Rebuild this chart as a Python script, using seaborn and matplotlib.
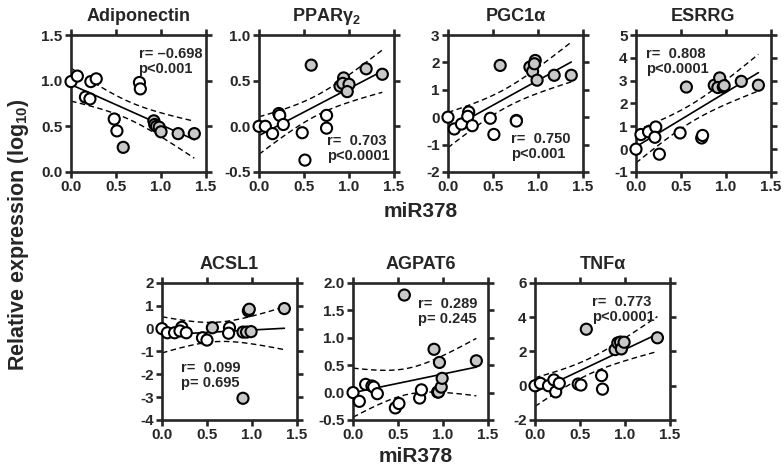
import numpy as np
import pandas as pd
import matplotlib
matplotlib.use("Agg")
import matplotlib.pyplot as plt
import seaborn as sns

# ---- data (miR378 vs relative expression, log10) ----
# open circles = group "A", grey circles = group "B"
adipo_x = [0.00, 0.07, 0.16, 0.21, 0.22, 0.28, 0.48, 0.51, 0.76, 0.77,
           0.58, 0.92, 0.93, 0.95, 0.98, 1.00, 1.19, 1.37]
adipo_y = [0.99, 1.05, 0.82, 0.80, 0.99, 1.02, 0.58, 0.45, 0.98, 0.91,
           0.27, 0.56, 0.52, 0.50, 0.49, 0.44, 0.42, 0.42]
adipo_grp = ["A"] * 10 + ["B"] * 8

ppar_x = [0.00, 0.07, 0.15, 0.22, 0.23, 0.27, 0.48, 0.51, 0.75, 0.75,
          0.58, 0.90, 0.94, 0.93, 1.00, 0.98, 1.19, 1.37]
ppar_y = [0.00, 0.00, -0.08, 0.14, 0.12, 0.02, -0.07, -0.37, 0.12, -0.02,
          0.67, 0.44, 0.53, 0.47, 0.46, 0.38, 0.63, 0.57]
ppar_grp = ["A"] * 10 + ["B"] * 8

pgc_x = [0.00, 0.07, 0.15, 0.23, 0.22, 0.27, 0.47, 0.51, 0.76, 0.76,
         0.58, 0.91, 0.94, 0.97, 0.96, 0.99, 1.18, 1.37]
pgc_y = [0.00, -0.43, -0.25, 0.19, 0.03, -0.31, -0.04, -0.63, -0.12, -0.14,
         1.89, 1.83, 1.67, 2.07, 1.95, 1.35, 1.53, 1.53]
pgc_grp = ["A"] * 10 + ["B"] * 8

esrrg_x = [0.00, 0.055, 0.14, 0.22, 0.21, 0.26, 0.49, 0.73, 0.74,
           0.56, 0.87, 0.93, 0.91, 0.97, 0.98, 1.17, 1.36]
esrrg_y = [0.00, 0.64, 0.76, 0.97, 0.52, -0.22, 0.71, 0.49, 0.60,
           2.72, 2.80, 3.12, 2.70, 2.72, 2.78, 2.97, 2.80]
esrrg_grp = ["A"] * 9 + ["B"] * 8

acsl_x = [0.00, 0.06, 0.14, 0.22, 0.20, 0.27, 0.45, 0.50, 0.75, 0.74,
          0.56, 0.90, 0.94, 0.96, 0.97, 0.99, 0.90, 1.36]
acsl_y = [0.00, -0.18, -0.18, 0.06, -0.10, -0.18, -0.40, -0.50, 0.04, -0.20,
          0.04, -0.15, -0.15, 0.78, 0.85, -0.13, -3.05, 0.88]
acsl_grp = ["A"] * 10 + ["B"] * 8

agpat_x = [0.00, 0.07, 0.14, 0.21, 0.23, 0.27, 0.47, 0.51, 0.74, 0.76,
           0.57, 0.90, 0.94, 0.95, 0.96, 0.98, 0.99, 1.37]
agpat_y = [0.00, -0.16, 0.15, 0.12, 0.10, -0.02, -0.28, -0.20, -0.10, 0.05,
           1.78, 0.79, 0.01, 0.01, 0.55, 0.10, 0.26, 0.58]
agpat_grp = ["A"] * 10 + ["B"] * 8

tnf_x = [0.00, 0.06, 0.15, 0.21, 0.23, 0.27, 0.48, 0.51, 0.74, 0.75,
         0.57, 0.89, 0.92, 0.95, 0.96, 0.99, 1.36]
tnf_y = [0.00, 0.14, 0.00, 0.34, -0.36, 0.14, 0.10, 0.04, 0.59, -0.20,
         3.30, 2.11, 2.50, 2.55, 2.15, 2.54, 2.80]
tnf_grp = ["A"] * 10 + ["B"] * 7

titles = ["Adiponectin", "PPARγ$_2$", "PGC1α", "ESRRG", "ACSL1", "AGPAT6", "TNFα"]
stats = ["r= \u20130.698\np<0.001", "r=  0.703\np<0.0001", "r=  0.750\np<0.001",
         "r=  0.808\np<0.0001", "r=  0.099\np= 0.695", "r=  0.289\np= 0.245",
         "r=  0.773\np<0.0001"]
yticks = [[0.0, 0.5, 1.0, 1.5], [-0.5, 0.0, 0.5, 1.0], [-2, -1, 0, 1, 2, 3],
          [-1, 0, 1, 2, 3, 4, 5], [-4, -3, -2, -1, 0, 1, 2],
          [-0.5, 0.0, 0.5, 1.0, 1.5, 2.0], [-2, 0, 2, 4, 6]]
yfmt = ["%.1f", "%.1f", "%d", "%d", "%d", "%.1f", "%d"]
t_crit = [2.12, 2.12, 2.12, 2.13, 2.12, 2.12, 2.13]  # two-sided 95%, df = n-2

panels = [(adipo_x, adipo_y, adipo_grp), (ppar_x, ppar_y, ppar_grp),
          (pgc_x, pgc_y, pgc_grp), (esrrg_x, esrrg_y, esrrg_grp),
          (acsl_x, acsl_y, acsl_grp), (agpat_x, agpat_y, agpat_grp),
          (tnf_x, tnf_y, tnf_grp)]

# layout (figure fractions) and where the r / p text sits (axes fractions)
boxes = [(0.0906, 0.6364), (0.3304, 0.6364), (0.5714, 0.6364), (0.8112, 0.6364),
         (0.2066, 0.1121), (0.4503, 0.1121), (0.6824, 0.1121)]
text_pos = [(0.50, 0.91), (0.505, 0.28), (0.47, 0.29), (0.075, 0.915),
            (0.14, 0.43), (0.48, 0.90), (0.425, 0.91)]

sns.set_style("ticks")
plt.rcParams["font.family"] = ["Liberation Sans", "DejaVu Sans"]
plt.rcParams["font.weight"] = "bold"
plt.rcParams["axes.unicode_minus"] = False
plt.rcParams["mathtext.fontset"] = "custom"
plt.rcParams["mathtext.rm"] = "Liberation Sans:bold"
plt.rcParams["mathtext.it"] = "Liberation Sans:bold"
plt.rcParams["mathtext.bf"] = "Liberation Sans:bold"

fig = plt.figure(figsize=(7.84, 4.73), dpi=100)

for i, (xs, ys, grp) in enumerate(panels):
    ax = fig.add_axes([boxes[i][0], boxes[i][1], 0.1722, 0.2896])
    df = pd.DataFrame({"x": xs, "y": ys, "grp": grp})

    # regression line + 95% confidence band of the mean
    sns.regplot(data=df, x="x", y="y", scatter=False, ci=None, truncate=True,
                color="black", line_kws={"lw": 1.2}, ax=ax)
    x = np.asarray(xs)
    y = np.asarray(ys)
    b, a = np.polyfit(x, y, 1)
    n = len(x)
    s = np.sqrt(np.sum((y - (a + b * x)) ** 2) / (n - 2))
    xx = np.linspace(x.min(), x.max(), 100)
    se = s * np.sqrt(1 / n + (xx - x.mean()) ** 2 / np.sum((x - x.mean()) ** 2))
    for sign in (-1, 1):
        ax.plot(xx, a + b * xx + sign * t_crit[i] * se, color="black",
                lw=1.0, ls=(0, (4, 2.5)))

    sns.scatterplot(data=df, x="x", y="y", hue="grp",
                    palette={"A": "white", "B": "#c8c8c8"},
                    edgecolor="black", linewidth=1.5, s=64, legend=False,
                    clip_on=False, zorder=5, ax=ax)

    ax.set_xlim(0, 1.5)
    ax.set_xticks([0, 0.5, 1.0, 1.5])
    ax.set_xticklabels(["0.0", "0.5", "1.0", "1.5"])
    ax.set_ylim(yticks[i][0], yticks[i][-1])
    ax.set_yticks(yticks[i])
    ax.set_yticklabels([yfmt[i] % v for v in yticks[i]])
    ax.set_xlabel("")
    ax.set_ylabel("")
    for sp in ax.spines.values():
        sp.set_visible(True)
        sp.set_linewidth(1.9)
    ax.tick_params(top=True, right=True, direction="out", width=1.9,
                   length=4, pad=2, labelsize=11)
    ax.set_title(titles[i], fontsize=13, fontweight="bold", pad=10)
    ax.text(text_pos[i][0], text_pos[i][1], stats[i], transform=ax.transAxes,
            ha="left", va="top", fontsize=10.5, fontweight="bold",
            linespacing=1.1, zorder=6)

fig.text(0.536, 0.553, "miR378", ha="center", va="center",
         fontsize=15, fontweight="bold")
fig.text(0.530, 0.034, "miR378", ha="center", va="center",
         fontsize=15, fontweight="bold")
fig.text(0.023, 0.505, "Relative expression (log$_{10}$)", rotation=90,
         ha="center", va="center", fontsize=15.5, fontweight="bold")

fig.savefig("out.png", dpi=100)
